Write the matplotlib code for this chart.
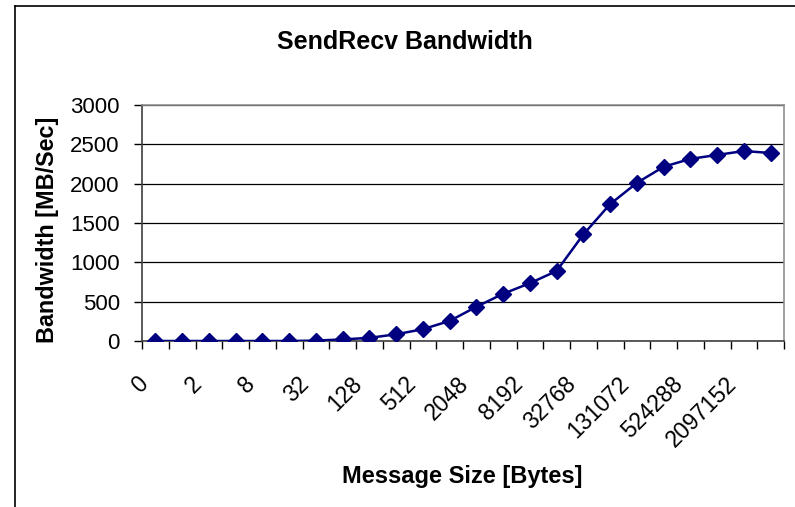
import numpy as np
import matplotlib.pyplot as plt
from matplotlib.lines import Line2D
from matplotlib.ticker import FixedLocator
from matplotlib.transforms import ScaledTranslation

plt.rcParams["font.family"] = ["Liberation Sans", "DejaVu Sans"]

sizes = [0, 1, 2, 4, 8, 16, 32, 64, 128, 256, 512, 1024, 2048, 4096, 8192,
         16384, 32768, 65536, 131072, 262144, 524288, 1048576, 2097152, 4194304]
bandwidth = [0, 0, 0, 0, 0, 0, 5, 20, 40, 85, 150, 255, 435, 600, 735,
             890, 1355, 1740, 2010, 2215, 2315, 2365, 2415, 2390]
y_ticks = [0, 500, 1000, 1500, 2000, 2500, 3000]

fig = plt.figure(figsize=(7.95, 5.07), dpi=100)
ax = fig.add_axes([142 / 795, 1 - 341 / 507, 642 / 795, 236 / 507])

x = np.arange(len(sizes))
ax.plot(x, bandwidth, color="#000080", lw=1.8, marker="D", ms=8, zorder=3)

ax.set_xlim(-0.5, len(sizes) - 0.5)
ax.set_ylim(0, 3000)
ax.set_yticks(y_ticks)
ax.set_yticklabels([str(v) for v in y_ticks], fontsize=16)
ax.yaxis.grid(True, color="black", lw=0.9)
ax.set_axisbelow(True)

# tick marks between categories, labels on every other category
ax.set_xticks([])
ax.xaxis.set_minor_locator(FixedLocator(np.arange(-0.5, len(sizes), 1)))
ax.tick_params(axis="x", which="minor", length=6, width=1, direction="out")
ax.tick_params(axis="y", length=6, width=1, direction="out", pad=10)

lab_trans = ax.get_xaxis_transform() + ScaledTranslation(-19 / 100, -31 / 100, fig.dpi_scale_trans)
for xi, s in zip(x[::2], sizes[::2]):
    ax.text(xi, 0, str(s), transform=lab_trans, fontsize=16.5, rotation=45,
            ha="right", va="top", rotation_mode="anchor")

for side in ["top", "right"]:
    ax.spines[side].set_color("#909090")
    ax.spines[side].set_linewidth(1.2)
for side in ["left", "bottom"]:
    ax.spines[side].set_color("#404040")
    ax.spines[side].set_linewidth(1.2)

fig.text(405 / 795, 1 - 42 / 507, "SendRecv Bandwidth", fontsize=18,
         fontweight="bold", ha="center", va="center")
fig.text(462 / 795, 1 - 476 / 507, "Message Size [Bytes]", fontsize=17,
         fontweight="bold", ha="center", va="center")
fig.text(48 / 795, 1 - 230 / 507, "Bandwidth [MB/Sec]", fontsize=16.8,
         fontweight="bold", ha="center", va="center", rotation=90)

# chart area border (left and top edges visible)
fig.add_artist(Line2D([15 / 795, 15 / 795], [0, 1 - 6 / 507], color="black", lw=1.2))
fig.add_artist(Line2D([15 / 795, 1], [1 - 6 / 507, 1 - 6 / 507], color="black", lw=1.2))

fig.savefig("out.png", dpi=100)
